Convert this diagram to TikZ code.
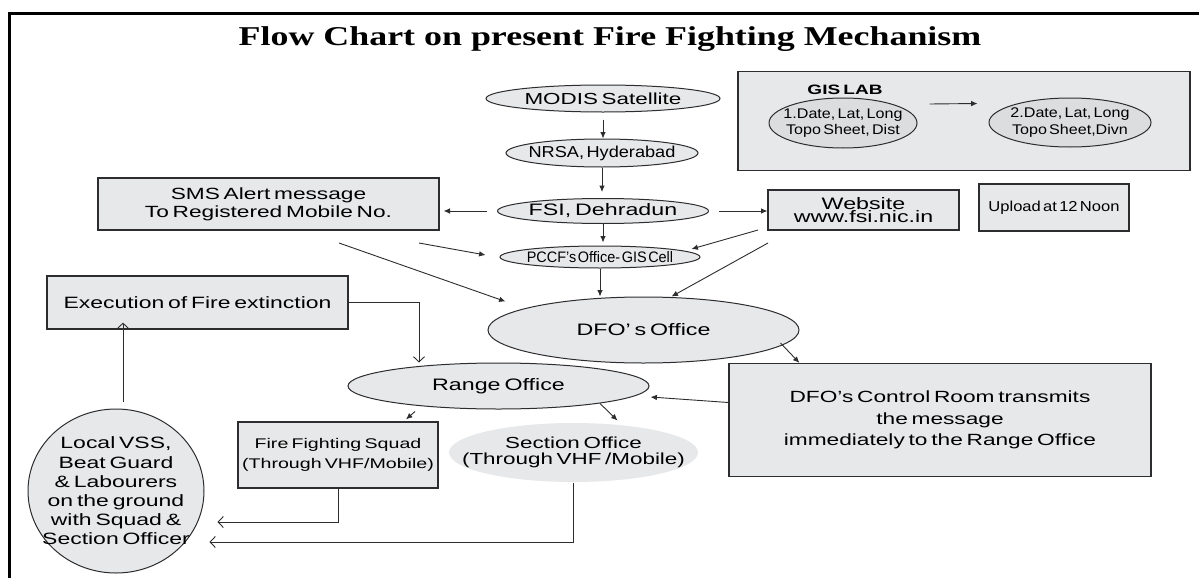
\documentclass[tikz,border=0pt]{standalone}
\usepackage{fontspec}
\usepackage{tikz}
\usetikzlibrary{shapes.geometric,arrows.meta,scopes}
\setmainfont{Liberation Sans}
\newfontfamily\widesans{Liberation Sans}[FakeStretch=1.4,WordSpace=0.6]
\newfontfamily\narrowsans{Liberation Sans}[FakeStretch=1.15,WordSpace=0.5]
\newfontfamily\tightsans{Liberation Sans}[FakeStretch=0.95,WordSpace=0.4]
\newfontfamily\headserif{Liberation Serif}[FakeStretch=1.32]
\definecolor{panel}{RGB}{231,232,233}
\definecolor{panelb}{RGB}{220,221,223}
\definecolor{edge}{RGB}{45,45,47}

\begin{document}
\begin{tikzpicture}[x=0.5pt,y=-0.5pt,
    box/.style={rectangle,draw=edge,fill=panel,line width=0.6pt,inner sep=0pt,align=center},
    oval/.style={ellipse,draw=edge,fill=panel,line width=0.5pt,inner xsep=-30pt,inner ysep=-8pt,align=center},
    flow/.style={-{Latex[length=3.2pt,width=2.8pt]},line width=0.45pt,draw=edge},
    back/.style={-{Straight Barb[length=2.6pt,width=5.5pt]},line width=0.45pt,draw=edge},
]
    \useasboundingbox (0,0) rectangle (1199,578);
    \fill[white] (0,0) rectangle (1199,578);
    % page frame
    \draw[line width=1.5pt] (9,578) -- (9,13) -- (1199,13);

    \node[anchor=base,font={\headserif\bfseries\fontsize{13.6}{15}\selectfont}] (title) at (610,45)
        {Flow Chart on present Fire Fighting Mechanism};

    % GIS lab panel
    \node[box,minimum width=226pt,minimum height=49.5pt] (gis) at (964,121) {};
    \node[font={\widesans\bfseries\fontsize{6.8}{7}\selectfont}] (gislab) at (845,90) {GIS LAB};
    \node[oval,fill=panelb,minimum width=74pt,minimum height=25pt,font={\narrowsans\fontsize{7}{8.3}\selectfont}] (gisa) at (843,123)
        {1.Date, Lat, Long\\Topo Sheet, Dist};
    \node[oval,fill=panelb,minimum width=81pt,minimum height=24.5pt,font={\narrowsans\fontsize{7}{8.3}\selectfont}] (gisb) at (1070,122.5)
        {2.Date, Lat, Long\\Topo Sheet,Divn};

    % main chain
    \node[oval,minimum width=117pt,minimum height=13.5pt,font={\widesans\fontsize{8}{9}\selectfont}] (modis) at (603,98.5) {MODIS Satellite};
    \node[oval,minimum width=96pt,minimum height=14pt,font={\narrowsans\fontsize{7.9}{9}\selectfont}] (nrsa) at (602,153) {NRSA, Hyderabad};
    \node[oval,minimum width=105.5pt,minimum height=12.5pt,font={\widesans\fontsize{8.3}{9}\selectfont}] (fsi) at (603,211) {FSI, Dehradun};
    \node[oval,minimum width=100pt,minimum height=11pt,font={\tightsans\fontsize{7.6}{8}\selectfont}] (pccf) at (600,257) {PCCF’s Office- GIS Cell};
    \node[oval,minimum width=155.5pt,minimum height=33pt,font={\widesans\fontsize{8.3}{9}\selectfont}] (dfo) at (643.5,330) {DFO’ s Office};

    \node[box,minimum width=170.5pt,minimum height=26pt,font={\widesans\fontsize{8.1}{9}\selectfont}] (sms) at (268.5,204)
        {SMS Alert message\\To Registered Mobile No.};
    \node[box,minimum width=95.5pt,minimum height=20pt,font={\widesans\fontsize{8.3}{6.8}\selectfont}] (web) at (863.5,210)
        {Website\\www.fsi.nic.in};
    \node[box,minimum width=75pt,minimum height=23.5pt,font={\narrowsans\fontsize{7.2}{8}\selectfont}] (upload) at (1054,207.5) {Upload at 12 Noon};

    % field level
    \node[box,minimum width=150.5pt,minimum height=26.5pt,font={\widesans\fontsize{8.2}{9}\selectfont}] (exec) at (197.5,302.5) {Execution of Fire extinction};
    \node[oval,minimum width=150.5pt,minimum height=23pt,font={\widesans\fontsize{8.3}{9}\selectfont}] (range) at (498.5,386) {Range Office};
    \node[box,minimum width=211pt,minimum height=56.5pt,font={\widesans\fontsize{8.1}{10.7}\selectfont}] (ctrl) at (940,420)
        {DFO’s Control Room transmits\\the message\\immediately to the Range Office};
    \node[box,minimum width=100pt,minimum height=33pt,font={\widesans\fontsize{7}{10}\selectfont}] (squad) at (338,455)
        {Fire Fighting Squad\\(Through VHF/Mobile)};
    \node[oval,draw=none,minimum width=124.5pt,minimum height=29.5pt,font={\widesans\fontsize{8}{8}\selectfont}] (section) at (573.5,452.5)
        {Section Office\\(Through VHF /Mobile)};
    \node[oval,minimum width=88pt,minimum height=82pt,font={\widesans\fontsize{8.2}{9.6}\selectfont}] (vss) at (116,491)
        {Local VSS,\\Beat Guard\\\& Labourers\\on the ground\\with Squad \&\\Section Officer};

    \coordinate (smsA) at (419,243);
    \coordinate (smsB) at (339,243);
    \coordinate (webA) at (758,230);
    \coordinate (webB) at (768,243);

    {[flow]
        \draw[shorten <=3.5pt] (modis.south) -- (modis.south |- nrsa.north);
        \draw[shorten >=3pt] (nrsa.south) -- (nrsa.south |- fsi.north);
        \draw[shorten <=5pt,shorten >=2pt] (fsi.west) -- (fsi.west -| sms.east);
        \draw[shorten <=5pt] (fsi.east) -- (fsi.east -| web.west);
        \draw[shorten >=1.5pt] (fsi.south) -- (fsi.south |- pccf.north);
        \draw (pccf.south) -- (pccf.south |- dfo.north);
        \draw (smsA) -- ([xshift=-7pt,yshift=1pt]pccf.west);
        \draw (smsB) -- ([xshift=-69pt,yshift=-2.5pt]dfo.north);
        \draw (webA) -- ([xshift=-4.5pt,yshift=4pt]pccf.east);
        \draw (webB) -- ([xshift=14pt]dfo.north);
        \draw ([xshift=-9.5pt,yshift=-6.5pt]dfo.east) -- ([xshift=35.5pt]ctrl.north west);
        \draw ([yshift=8.75pt]ctrl.west) -- ([xshift=0.5pt,yshift=-5.5pt]range.east);
        \draw ([xshift=-41.75pt,yshift=-1pt]range.south) -- ([xshift=34pt,yshift=1pt]squad.north);
        \draw ([xshift=50.75pt,yshift=3pt]range.south) -- ([xshift=22pt,yshift=1pt]section.north);
        \draw ([xshift=6pt,yshift=9.5pt]gisa.east) -- ([xshift=-5.5pt,yshift=9.5pt]gisb.west);
    }
    {[back]
        \draw (exec.east) -| ([xshift=-39.75pt]range.north);
        \draw (squad.south) |- ([xshift=6.5pt,yshift=-15.5pt]vss.east);
        \draw (section.south) |- ([xshift=2.5pt,yshift=-25.5pt]vss.east);
        \draw ([xshift=3.5pt,yshift=3.5pt]vss.north) -- ([xshift=3.5pt,yshift=3.5pt]vss.north |- exec.south);
    }
\end{tikzpicture}
\end{document}
